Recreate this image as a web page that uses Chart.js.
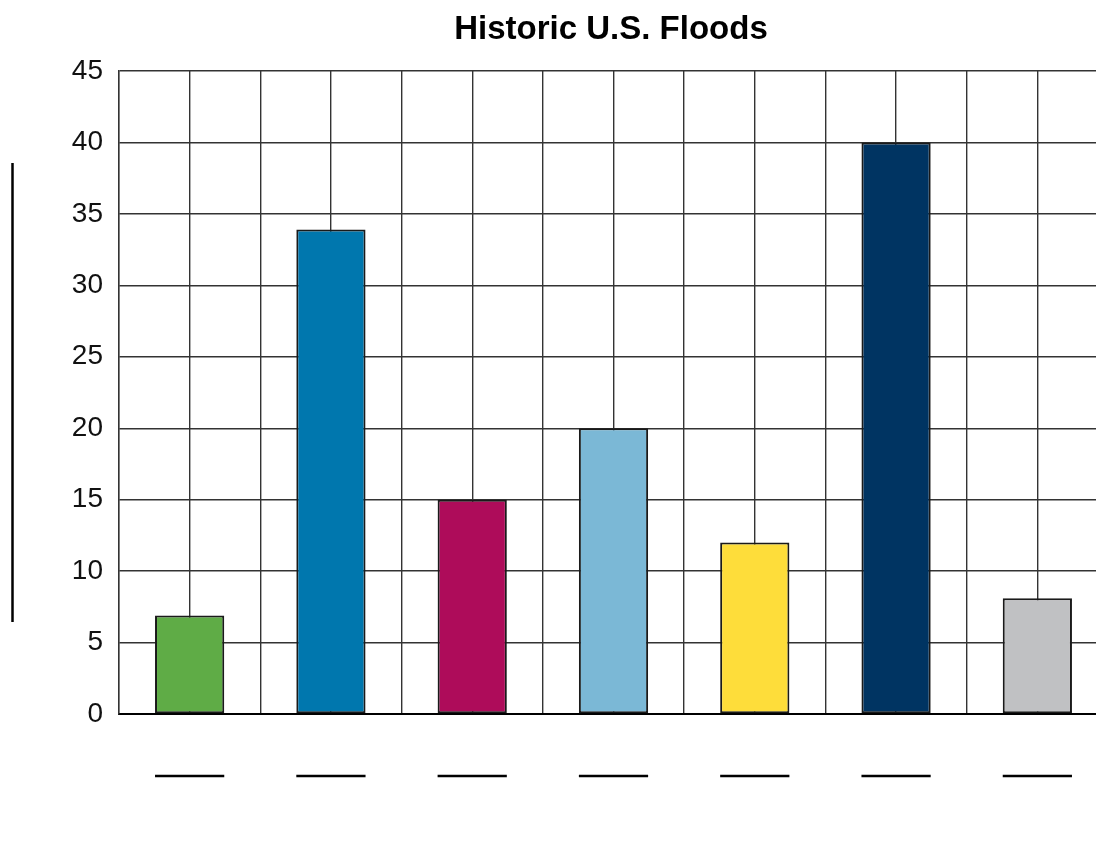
<!DOCTYPE html>
<html>
<head>
<meta charset="utf-8">
<script src="https://cdn.jsdelivr.net/npm/chart.js@4.4.0/dist/chart.umd.min.js"></script>
<style>
  html, body { margin: 0; padding: 0; background: #fff; overflow: hidden; }
  #wrap { position: relative; width: 1108px; height: 844px; }
  #title {
    position: absolute; top: 9px; left: 0; width: 1222px; text-align: center;
    font: bold 33px "Liberation Sans", Arial, sans-serif; color: #000;
  }
</style>
</head>
<body>
<div id="wrap">
  <canvas id="floodChart" width="1108" height="844"></canvas>
  <div id="title">Historic U.S. Floods</div>
</div>
<script>
// Blank category labels (answer lines drawn below each bar)
const categories = ['', '', '', '', '', '', ''];
const floodValues = [6.9, 33.9, 15, 20, 12, 40, 8.1];
const barColors = ['#5fac46', '#0077ae', '#ae0c5a', '#7bb8d6', '#fedd3a', '#003462', '#c0c1c3'];
const yTicks = [0, 5, 10, 15, 20, 25, 30, 35, 40, 45];

// draws the blank "fill in" lines: y-axis title line and one under each category
const blankLinesPlugin = {
    id: 'blankLines',
    afterDraw: function (chart) {
        const ctx = chart.ctx;
        const x = chart.scales.x;
        const meta = chart.getDatasetMeta(0);
        ctx.save();
        ctx.strokeStyle = '#000';
        ctx.lineWidth = 2.5;
        // y axis title blank
        ctx.beginPath();
        ctx.moveTo(12.5, 163);
        ctx.lineTo(12.5, 622);
        ctx.stroke();
        // x labels blanks
        meta.data.forEach(function (bar, i) {
            const cx = x.getPixelForValue(i);
            const half = bar.width / 2;
            ctx.beginPath();
            ctx.moveTo(cx - half, chart.chartArea.bottom + 62);
            ctx.lineTo(cx + half, chart.chartArea.bottom + 62);
            ctx.stroke();
        });
        ctx.restore();
    }
};

const ctx = document.getElementById('floodChart');
new Chart(ctx, {
    type: 'bar',
    data: {
        labels: categories,
        datasets: [{
            label: 'Historic U.S. Floods',
            data: floodValues,
            backgroundColor: barColors,
            borderColor: '#1a1a1a',
            borderWidth: 2,
            borderSkipped: false,
            barPercentage: 0.49,
            categoryPercentage: 1.0
        }]
    },
    options: {
        responsive: false,
        animation: false,
        devicePixelRatio: 1,
        layout: { padding: { top: 71, right: 0, bottom: 130, left: 0 } },
        plugins: {
            legend: { display: false },
            title: { display: false },
            tooltip: { enabled: false }
        },
        scales: {
            x: {
                offset: true,
                grid: { display: true, offset: true, color: '#333', lineWidth: 1.4, drawTicks: false },
                border: { display: true, color: '#000', width: 2 },
                ticks: { display: false }
            },
            // second axis only to draw the grid lines through the category centres
            xc: {
                type: 'category',
                labels: categories,
                position: 'bottom',
                offset: true,
                grid: { display: true, offset: false, color: '#333', lineWidth: 1.4, drawTicks: false },
                border: { display: false },
                ticks: { display: false }
            },
            y: {
                min: 0,
                max: 45,
                afterBuildTicks: function (scale) {
                    scale.ticks = yTicks.map(v => ({ value: v }));
                },
                afterFit: function (scale) {
                    scale.width = 119;
                },
                grid: { color: '#333', lineWidth: 1.4, drawTicks: false },
                border: { display: true, color: '#333', width: 1.4 },
                ticks: {
                    padding: 16,
                    color: '#111',
                    font: { family: 'Liberation Sans', size: 28 }
                }
            }
        }
    },
    plugins: [blankLinesPlugin]
});
</script>
</body>
</html>
